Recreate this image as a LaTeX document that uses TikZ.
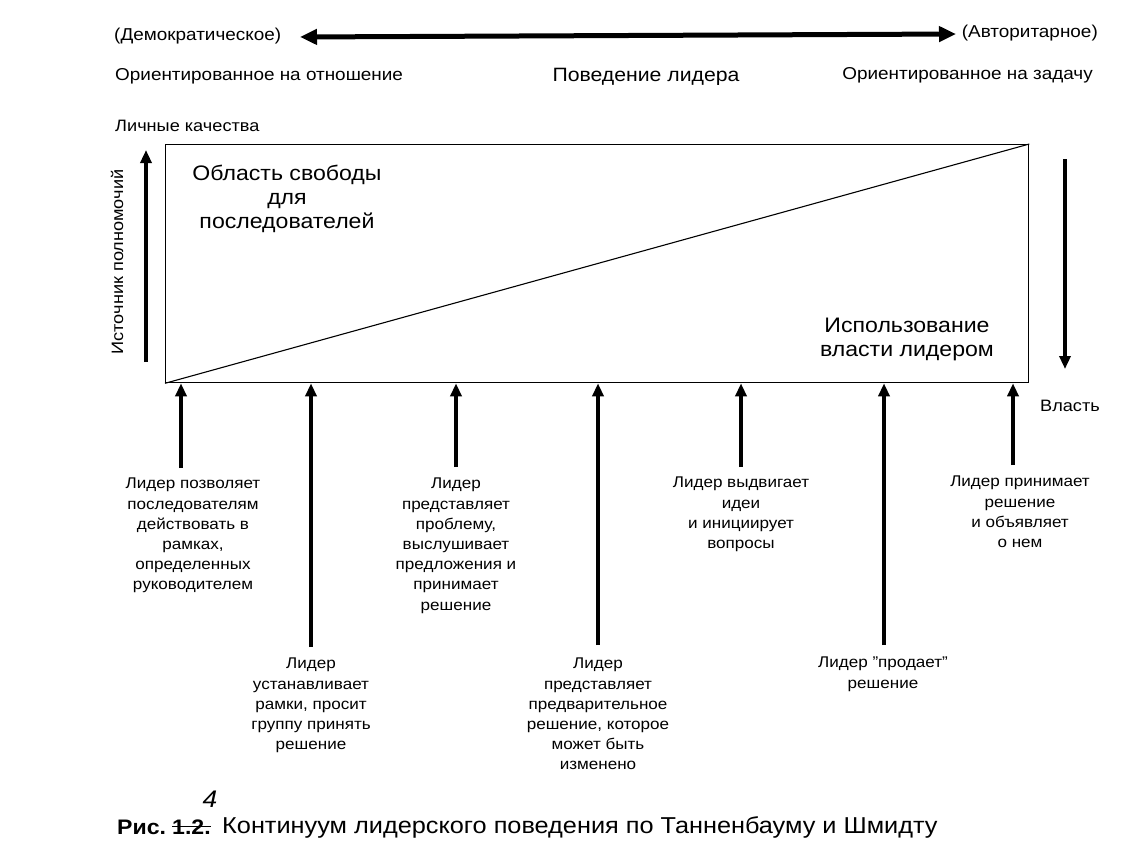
\documentclass[tikz,border=0pt]{standalone}
\usepackage{fontspec}
\setmainfont{Liberation Sans}[FakeStretch=1.1]
\usetikzlibrary{arrows.meta}
\tikzset{
  lbl/.style={align=center, font=\fontsize{15.5}{20.2}\selectfont, inner sep=0pt},
  toplbl/.style={font=\fontsize{17.2}{19}\selectfont, inner sep=0pt},
  small/.style={font=\fontsize{16.5}{18}\selectfont, inner sep=0pt},
  boxtxt/.style={align=center, font=\fontsize{21}{24}\selectfont, inner sep=0pt},
  uparrow/.style={line width=4pt, -{Triangle[width=11pt,length=13pt]}},
  bigarrow/.style={line width=5pt, {Triangle[width=15pt,length=17pt]}-{Triangle[width=15pt,length=17pt]}},
  captxt/.style={font=\fontsize{23}{26}\selectfont, inner sep=0pt},
}
\begin{document}
\begin{tikzpicture}[x=1pt,y=-1pt]
\useasboundingbox (0,0) rectangle (1124,857);
% top row
\node[toplbl, anchor=west] (demo) at (114,36) {(Демократическое)};
\node[toplbl, anchor=east] (avto) at (1098,33) {(Авторитарное)};
\coordinate (arrL) at (300,37);
\coordinate (arrR) at (956,34);
\draw[bigarrow] (arrL) -- (arrR);
\node[toplbl, anchor=west] (orel) at (115,76) {Ориентированное на отношение};
\node[font=\fontsize{19.3}{22}\selectfont, inner sep=0pt] (beh) at (646,77) {Поведение лидера};
\node[toplbl, anchor=east] (otask) at (1093,75) {Ориентированное на задачу};
\node[small, anchor=west] (pers) at (115,126) {Личные качества};
% box
\node[draw, line width=1.3pt, minimum width=863pt, minimum height=238pt, anchor=north west, inner sep=0pt] (box) at (165,144) {};
\draw[line width=1.1pt] (box.south west) -- (box.north east);
\node[boxtxt] (free) at (287,199) {Область свободы\\для\\последователей};
\node[boxtxt] (power) at (907,339) {Использование\\власти лидером};
% side arrows
\coordinate (lb) at (146,362);
\coordinate (lt) at (146,150);
\draw[uparrow] (lb) -- (lt);
\node[rotate=90, small] (src) at (117,262) {Источник полномочий};
\coordinate (rt) at (1065,159);
\coordinate (rb) at (1065,369);
\draw[uparrow] (rt) -- (rb);
\node[small, anchor=west] (vl) at (1040,406) {Власть};
% bottom arrows
\foreach \n/\x/\y in {1/181/468, 2/311/647, 3/456/467, 4/598/645, 5/741/467, 6/884/645, 7/1013/465} {
  \coordinate (b\n) at (\x,\y);
  \draw[uparrow] (b\n) -- (b\n |- box.south);
}
\node[lbl, anchor=north] (t1) at (193,478) {Лидер позволяет\\последователям\\действовать в\\рамках,\\определенных\\руководителем};
\node[lbl, anchor=north] (t2) at (311,658) {Лидер\\устанавливает\\рамки, просит\\группу принять\\решение};
\node[lbl, anchor=north] (t3) at (456,478) {Лидер\\представляет\\проблему,\\выслушивает\\предложения и\\принимает\\решение};
\node[lbl, anchor=north] (t4) at (598,658) {Лидер\\представляет\\предварительное\\решение, которое\\может быть\\изменено};
\node[lbl, anchor=north] (t5) at (741,477) {Лидер выдвигает\\идеи\\и инициирует\\вопросы};
\node[lbl, anchor=north] (t6) at (883,657) {Лидер "продает"\\решение};
\node[lbl, anchor=north] (t7) at (1020,476) {Лидер принимает\\решение\\и объявляет\\о нем};
% caption
\node[captxt, font=\bfseries\fontsize{21}{24}\selectfont, anchor=west] (c1) at (117,827) {Рис.};
\node[captxt, font=\bfseries\fontsize{21}{24}\selectfont, anchor=west] (c2) at (172,827) {1.2.};
\draw[line width=1.8pt] ([yshift=0.5pt]c2.west) -- ([yshift=0.5pt]c2.east);
\node[font=\itshape\fontsize{24}{26}\selectfont, inner sep=0pt] (c4) at (210,799) {4};
\node[captxt, anchor=west] (c3) at (222,827) {Континуум лидерского поведения по Танненбауму и Шмидту};
\end{tikzpicture}
\end{document}
